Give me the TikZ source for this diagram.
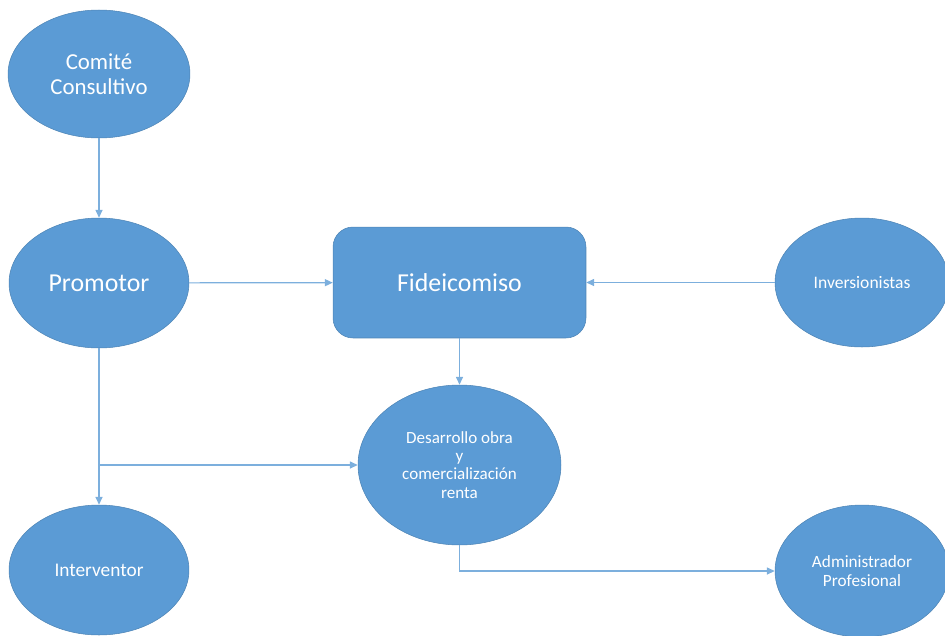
\documentclass[tikz,border=0pt]{standalone}
\usepackage{fontspec}
\setmainfont{Carlito}
\usetikzlibrary{shapes.geometric,arrows.meta}
\definecolor{officeblue}{HTML}{5B9BD5}

\begin{document}
\begin{tikzpicture}[x=0.02cm,y=-0.02cm,
    every node/.style={text=white,align=center,inner sep=0pt},
    blob/.style={ellipse,fill=officeblue,draw=officeblue!85!black,line width=0.3pt},
    trust/.style={rectangle,rounded corners=0.4cm,fill=officeblue,draw=officeblue!85!black,line width=0.3pt},
    link/.style={draw=officeblue!80,line width=0.7pt,-{Triangle[length=4.5pt,width=4pt]}}]
        \useasboundingbox (0,0) rectangle (945,635);
        % nodes
        \node[blob,minimum width=3.64cm,minimum height=2.56cm,font={\fontsize{13}{14}\selectfont}] (comite) at (99,74) {Comité\\Consultivo};
        \node[blob,minimum width=3.6cm,minimum height=2.6cm,font={\fontsize{14.7}{16}\selectfont}] (promotor) at (99,283) {Promotor};
        \node[blob,minimum width=3.6cm,minimum height=2.6cm,font={\fontsize{11}{12}\selectfont}] (interventor) at (99,570) {Interventor};
        \node[trust,minimum width=5.06cm,minimum height=2.22cm,font={\fontsize{14.7}{16}\selectfont}] (fideicomiso) at (459.5,282.5) {Fideicomiso};
        \node[blob,minimum width=3.48cm,minimum height=2.58cm,font={\fontsize{10}{11}\selectfont}] (inversionistas) at (862,282.5) {Inversionistas};
        \node[blob,minimum width=4.06cm,minimum height=3.2cm,font={\fontsize{9.7}{10.4}\selectfont}] (desarrollo) at (459.5,465) {Desarrollo obra\\y\\comercialización\\renta};
        \node[blob,minimum width=3.48cm,minimum height=2.64cm,font={\fontsize{9.8}{10.8}\selectfont}] (admin) at (862,571) {Administrador\\Profesional};
        \coordinate (branch) at (99,465);
        % connectors
        \draw[link] (comite) -- (promotor);
        \draw[link] (promotor) -- (fideicomiso);
        \draw[link] (inversionistas) -- (fideicomiso);
        \draw[link] (fideicomiso) -- (desarrollo);
        \draw[link] (promotor) -- (interventor);
        \draw[link] (branch) -- (desarrollo.west);
        \draw[link] (desarrollo.south) |- (admin.west);
    \end{tikzpicture}
\end{document}
